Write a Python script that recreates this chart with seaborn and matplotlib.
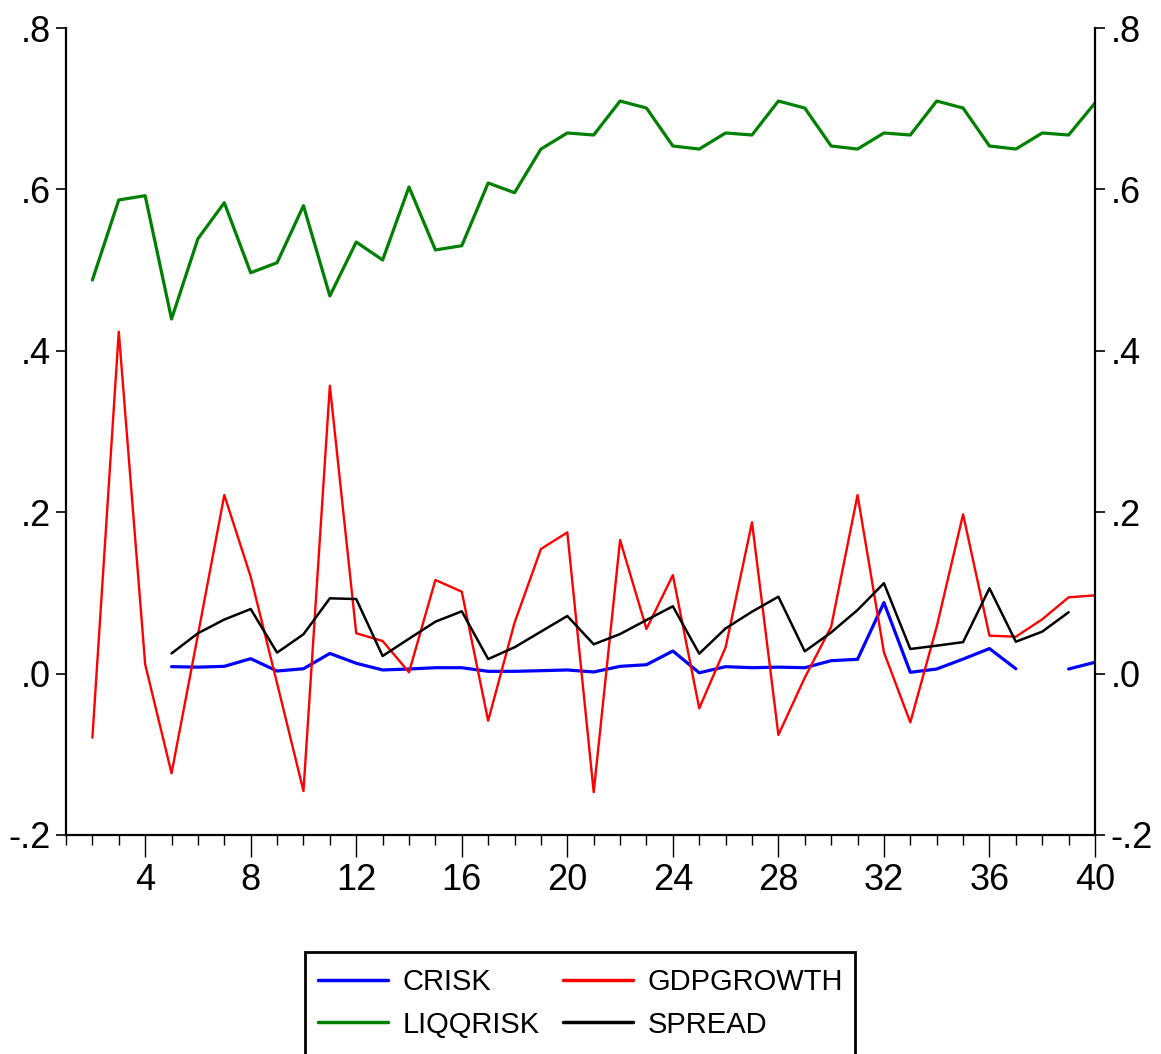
import numpy as np
import pandas as pd
import matplotlib
matplotlib.use("Agg")
import matplotlib.pyplot as plt
import seaborn as sns
from matplotlib.patches import Rectangle
from matplotlib.ticker import MultipleLocator, FixedLocator
from matplotlib.lines import Line2D

nan = np.nan
periods = list(range(1, 41))

crisk = [nan, nan, nan, nan, .0086, .008, .009, .0185, .0032, .006,
         .025, .0128, .0045, .0057, .0073, .0073, .0028, .0028, .0036, .0045,
         .002, .009, .011, .028, .001, .0086, .0073, .008, .0073, .016,
         .0177, .088, .0016, .0057, .018, .031, .006, nan, .0057, .014]

gdpgrowth = [nan, -.0794, .4237, .0115, -.1235, .048, .2213, .120, -.012, -.1455,
             .3568, .050, .0404, .0016, .116, .1015, -.0584, .063, .1544, .175,
             -.147, .1655, .0553, .122, -.043, .0326, .1875, -.076, -.005, .058,
             .2213, .0264, -.0604, .058, .1974, .047, .0457, .0673, .0945, .097]

liqqrisk = [nan, .4877, .5869, .5922, .4394, .5389, .5835, .4967, .5092, .5798,
            .4680, .5348, .5125, .6030, .5250, .5302, .6079, .5959, .6500, .6699,
            .6674, .7095, .7008, .6538, .6500, .6699, .6674, .7095, .7008, .6538,
            .6500, .6699, .6674, .7095, .7008, .6538, .6500, .6699, .6674, .707]

spread = [nan, nan, nan, nan, .025, .050, .067, .080, .026, .0487,
          .0933, .0924, .0218, .0432, .0643, .0772, .018, .0326, .052, .0714,
          .0363, .049, .0664, .0834, .0247, .056, .0767, .0953, .0276, .051,
          .0788, .112, .0305, .0346, .039, .1057, .0395, .052, .076, nan]

series_names = ["CRISK", "GDPGROWTH", "LIQQRISK", "SPREAD"]
series_vals = [crisk, gdpgrowth, liqqrisk, spread]
colors = {"CRISK": "#0000FF", "GDPGROWTH": "#FF0000", "LIQQRISK": "#008000", "SPREAD": "#000000"}
widths = {"CRISK": 2.3, "GDPGROWTH": 1.7, "LIQQRISK": 2.3, "SPREAD": 1.8}

ytick_vals = [-.2, 0, .2, .4, .6, .8]
ytick_labels = ["-.2", ".0", ".2", ".4", ".6", ".8"]
xtick_vals = [4, 8, 12, 16, 20, 24, 28, 32, 36, 40]

# long-form data with segment ids so that gaps stay as gaps
rows = []
for name, vals in zip(series_names, series_vals):
    seg = 0
    prev_nan = True
    for t, v in zip(periods, vals):
        if np.isnan(v):
            if not prev_nan:
                seg += 1
            prev_nan = True
            continue
        prev_nan = False
        rows.append({"t": t, "value": v, "series": name, "seg": f"{name}_{seg}"})
df = pd.DataFrame(rows)

sns.set_style("white")
plt.rcParams["font.family"] = ["Liberation Sans", "DejaVu Sans"]
plt.rcParams["text.color"] = "black"
plt.rcParams["xtick.color"] = "black"
plt.rcParams["ytick.color"] = "black"
plt.rcParams["axes.labelcolor"] = "black"

fig = plt.figure(figsize=(11.61, 10.54), dpi=100)
ax = fig.add_axes([66/1161, 1-835/1054, (1095-66)/1161, (835-28)/1054])

for name in series_names:
    sub = df[df["series"] == name]
    sns.lineplot(data=sub, x="t", y="value", units="seg", estimator=None,
                 color=colors[name], linewidth=widths[name], ax=ax, legend=False)

ax.set_xlim(1, 40)
ax.set_ylim(-0.2, 0.8)
ax.set_xlabel("")
ax.set_ylabel("")

for s in ["left", "right", "bottom"]:
    ax.spines[s].set_visible(True)
    ax.spines[s].set_color("black")
    ax.spines[s].set_linewidth(1.6)
ax.spines["top"].set_visible(False)

ax.yaxis.set_major_locator(FixedLocator(ytick_vals))
ax.set_yticklabels(ytick_labels)
ax.xaxis.set_major_locator(FixedLocator(xtick_vals))
ax.set_xticklabels([str(v) for v in xtick_vals])
ax.xaxis.set_minor_locator(MultipleLocator(1))

ax.tick_params(axis="y", which="major", direction="out", length=7, width=1.2,
               left=True, right=True, labelleft=True, labelright=True,
               labelsize=26, pad=4, colors="black")
ax.tick_params(axis="x", which="major", direction="out", length=16, width=1.0,
               bottom=True, top=False, labelsize=26, pad=4, colors="black")
ax.tick_params(axis="x", which="minor", direction="out", length=7, width=1.0,
               bottom=True, top=False, colors="black")
ax.grid(False)

# legend
box = Rectangle((305/1161, -0.02), (855-305)/1161, (1054-952)/1054 + 0.02,
                transform=fig.transFigure, fill=False, edgecolor="black",
                linewidth=2.0, clip_on=False)
fig.patches.append(box)

handles = [Line2D([], [], color=colors[n], linewidth=2.5) for n in ["CRISK", "LIQQRISK", "GDPGROWTH", "SPREAD"]]
labels = ["CRISK", "LIQQRISK", "GDPGROWTH", "SPREAD"]
leg = fig.legend(handles, labels, ncol=2, loc="upper left",
                 bbox_to_anchor=(318/1161, 1-968/1054), frameon=False,
                 fontsize=21, handlelength=2.4, handletextpad=0.5,
                 columnspacing=0.8, labelspacing=0.5, borderaxespad=0, borderpad=0.0)
for txt in leg.get_texts():
    txt.set_color("black")

fig.savefig("out.png", dpi=100)
